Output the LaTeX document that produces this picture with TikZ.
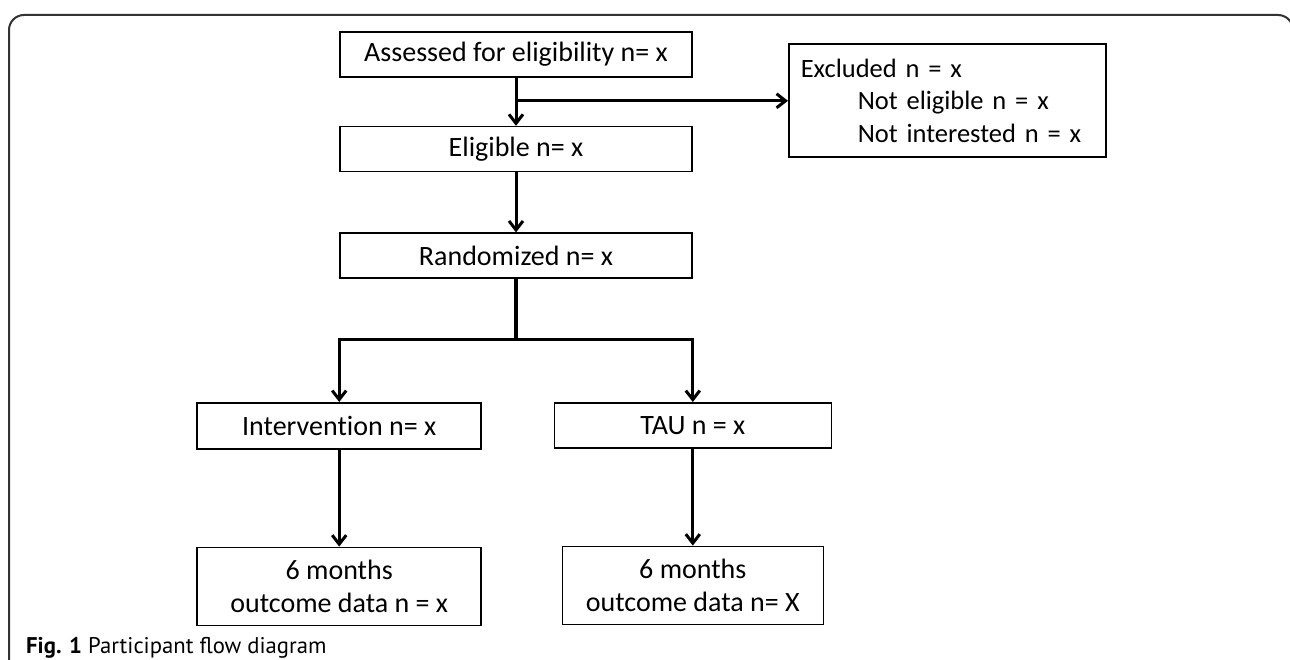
\documentclass[tikz,border=0pt]{standalone}
\usepackage{fontspec}
\setmainfont{Carlito}[Ligatures=CommonOff]
\newfontfamily\captionfont{PT Sans}
\usetikzlibrary{positioning, arrows.meta}
\tikzset{
  flowbox/.style = {
    draw,
    line width=1.6pt,
    minimum height=45pt,
    inner sep=4pt,
    font=\fontsize{28}{32.4}\selectfont
  },
  arrow/.style = {
    -{Straight Barb[length=9pt, width=14pt]},
    line width=3pt
  },
  trunk/.style = {
    line width=4pt
  },
}

\begin{document}
\begin{tikzpicture}[x=1pt, y=-1pt, node distance=48pt]
    \useasboundingbox (0,0) rectangle (1290,660);
    % frame round the figure, open at the bottom
    \draw[line width=2pt, black!80, rounded corners=15pt]
      (9,700) -- (9,15) -- (1293,15) -- (1293,700);

    \node[flowbox, minimum width=352pt] (assess) at (516,54.5) {Assessed for eligibility n= x};
    \node[flowbox, minimum width=352pt, below=of assess] (elig) {Eligible n= x};
    \coordinate[below=23pt of assess] (split);
    \node[flowbox, minimum height=113pt, text width=293pt, inner xsep=12pt, align=left,
          font=\fontsize{26.5}{32.4}\selectfont, right=272pt of split] (excl)
      {Excluded n = x\\\hspace*{57pt}Not eligible n = x\\\hspace*{57pt}Not interested n = x};
    \node[flowbox, minimum width=352pt, below=60pt of elig] (rand) {Randomized n= x};
    \coordinate[below=60pt of rand] (fork);
    \node[flowbox, minimum width=284pt, minimum height=46pt, below=123pt of rand.south west] (int) {Intervention n= x};
    \node[flowbox, minimum width=277pt, below=123pt of rand.south east] (tau) {TAU n = x};
    \node[flowbox, minimum width=284pt, minimum height=78pt, align=center, below=97pt of int] (outint)
      {6 months\\outcome data n = x};
    \node[flowbox, minimum width=261pt, minimum height=78pt, align=center, below=97pt of tau] (outtau)
      {6 months\\outcome data n= X};

    \draw[arrow] (assess) -- (elig);
    \draw[arrow] (split) -- (excl);
    \draw[arrow] (elig) -- (rand);
    \draw[trunk] (rand) -- (fork);
    \draw[arrow] (fork) -| (int);
    \draw[arrow] (fork) -| (tau);
    \draw[arrow] (int) -- (outint);
    \draw[arrow] (tau) -- (outtau);

    \node[anchor=base west, inner sep=0pt, font=\captionfont\fontsize{22.7}{27}\selectfont]
      (caption) at (26,653) {\textbf{Fig. 1} Participant flow diagram};
\end{tikzpicture}
\end{document}
